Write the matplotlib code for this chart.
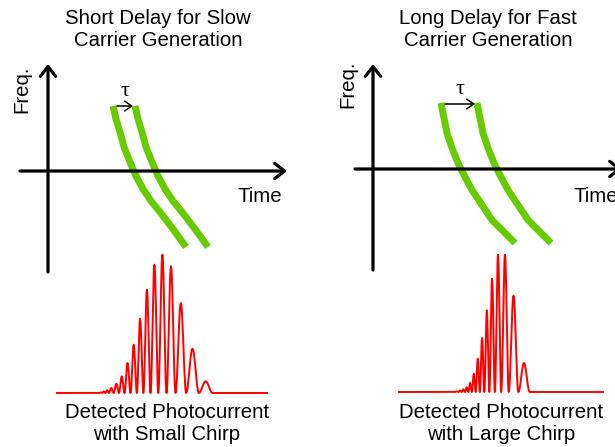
import numpy as np
import matplotlib
matplotlib.use('Agg')
from matplotlib import pyplot as plt

plt.rcParams['font.family'] = ['Liberation Sans', 'DejaVu Sans']

# panel texts
titles = ['Short Delay for Slow\nCarrier Generation', 'Long Delay for Fast\nCarrier Generation']
captions = ['Detected Photocurrent\nwith Small Chirp', 'Detected Photocurrent\nwith Large Chirp']

# chirp traces (offset from each panel's axis origin, px)
chirp_t = [[65, 68, 72, 76, 82, 88, 95, 103, 112, 125, 138],
           [68, 71, 74, 79, 85, 92, 99, 109, 119, 131, 142]]
chirp_f = [[-65, -52, -39, -24, -9, 5, 18, 30, 41, 58, 76],
           [-66, -51, -36, -21, -6, 8, 21, 36, 51, 63, 74]]
delay = [22, 36]

# photocurrent fringe peaks (x position, height in px)
peak_x = [[101, 104, 106.7, 111, 116.3, 121.7, 127.3, 133.7, 140, 146.7, 154.3,
           162.3, 170.7, 180.3, 192, 205.7],
          [456.7, 460, 463.3, 466.7, 470, 473.7, 477.7, 482, 486.7, 492, 497.7,
           504.7, 512.7, 524]]
peak_h = [[0.7, 1.7, 2.7, 5, 9.3, 16.7, 30, 48.3, 74.3, 103.3, 128.3, 138.3,
           126.7, 90, 44.3, 11.7],
          [0.7, 1.3, 2.7, 4.7, 9, 18.3, 33.3, 54, 81.7, 113.3, 137.3, 137.3,
           96.3, 29]]

# layout (figure pixels)
origin = [(48, 171), (373, 169)]
y_top = [64, 64]
y_bot = [272, 270]
x_left = [20, 355]
x_right = [287, 622]
title_x = [158, 488]
base_y = [393, 392]
span = [(57, 267), (399, 603)]
cap_x = [167, 501]
freq_pos = [(22, 89), (348, 84)]
time_pos = [(237, 197), (573, 197)]
tau_arrow_y = [106, 104]

green = '#66cc00'

fig = plt.figure(figsize=(6.15, 4.47), dpi=100)
ax = fig.add_axes([0, 0, 1, 1])
ax.set_xlim(0, 615)
ax.set_ylim(447, 0)
ax.axis('off')

axis_arrow = dict(arrowstyle='->,head_length=0.7,head_width=0.55', lw=2.3,
                  color='black', mutation_scale=10, shrinkA=0, shrinkB=0)

for k in range(2):
    ox, oy = origin[k]
    ax.text(title_x[k], 30, titles[k], ha='center', va='center', fontsize=14.7,
            linespacing=1.2)
    ax.annotate('', xy=(ox, y_top[k]), xytext=(ox, y_bot[k]), arrowprops=axis_arrow,
                annotation_clip=False)
    ax.annotate('', xy=(x_right[k], oy), xytext=(x_left[k], oy), arrowprops=axis_arrow,
                annotation_clip=False)
    ax.text(freq_pos[k][0], freq_pos[k][1], 'Freq.', rotation=90, ha='center',
            va='center', fontsize=14.7)
    ax.text(time_pos[k][0], time_pos[k][1], 'Time', ha='left', va='center',
            fontsize=14.7)

    t = np.array(chirp_t[k]) + ox
    f = np.array(chirp_f[k]) + oy
    ax.plot(t, f, color=green, lw=5, solid_capstyle='butt', solid_joinstyle='round')
    ax.plot(t + delay[k], f, color=green, lw=5, solid_capstyle='butt',
            solid_joinstyle='round')

    # delay arrow and tau
    x0 = t[0] + 4
    ax.annotate('', xy=(t[0] + delay[k] - 2, tau_arrow_y[k]), xytext=(x0, tau_arrow_y[k]),
                arrowprops=dict(arrowstyle='->,head_length=0.5,head_width=0.35', lw=1.1,
                                color='black', mutation_scale=10, shrinkA=0, shrinkB=0))
    ax.text(t[0] + delay[k] / 2 + 1, tau_arrow_y[k] - 15, '\u03c4', ha='center',
            va='center', fontsize=16, family=['Liberation Serif', 'DejaVu Serif'])

    # photocurrent fringes
    px = np.array(peak_x[k])
    ph = np.array(peak_h[k])
    mids = (px[:-1] + px[1:]) / 2
    edges = np.concatenate([[px[0] - (px[1] - px[0]) / 2], mids,
                            [px[-1] + (px[-1] - px[-2]) / 2]])
    xs = [span[k][0]]
    ys = [0.0]
    for i in range(len(px)):
        s = np.linspace(0, 1, 25)
        xs.extend(edges[i] + (edges[i + 1] - edges[i]) * s)
        ys.extend(ph[i] * np.sin(np.pi * s) ** 2)
    xs.append(span[k][1])
    ys.append(0.0)
    ax.plot(xs, base_y[k] - np.array(ys), color='red', lw=1.4)

    ax.text(cap_x[k], 424, captions[k], ha='center', va='center', fontsize=14.7,
            linespacing=1.2)

fig.savefig('out.png', dpi=100)
